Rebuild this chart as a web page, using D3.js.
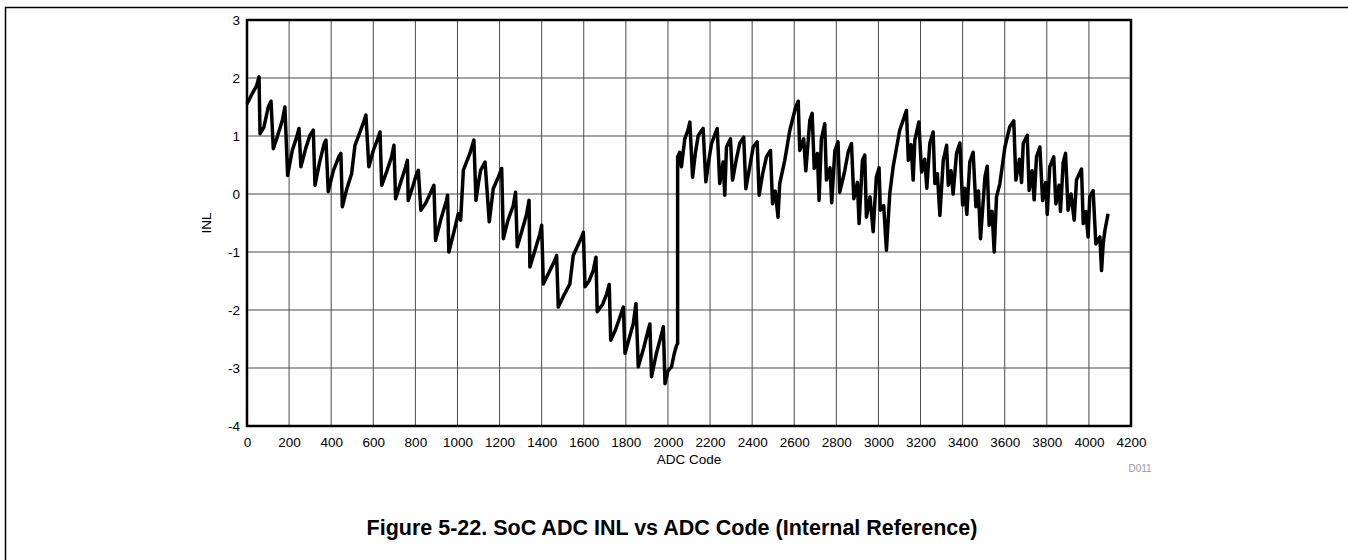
<!DOCTYPE html>
<html>
<head>
<meta charset="utf-8">
<script src="https://cdn.jsdelivr.net/npm/d3@7"></script>
<style>
  body { margin: 0; background: #fff; }
  svg text { font-family: Arial, "Liberation Sans", sans-serif; }
</style>
</head>
<body>
<svg width="1348" height="560"></svg>
<script>
// vertices of the INL trace (ADC code, INL in LSB)
var adcCode = [
  0, 20, 46, 57, 62, 80, 101, 114, 125, 145, 168, 180, 193, 215, 236, 247, 256,
  280, 299, 315, 323, 345, 367, 375, 386, 410, 437, 446, 453, 475, 497, 513, 535,
  557, 565, 579, 600, 624, 632, 640, 665, 687, 698, 706, 730, 754, 762, 766, 785,
  806, 814, 826, 850, 877, 888, 896, 920, 948, 953, 959, 980, 1004, 1015, 1028,
  1059, 1078, 1088, 1100, 1110, 1131, 1151, 1170, 1195, 1210, 1218, 1240, 1265,
  1276, 1284, 1305, 1329, 1340, 1344, 1370, 1392, 1400, 1408, 1435, 1463, 1471,
  1479, 1505, 1534, 1550, 1570, 1590, 1598, 1606, 1625, 1645, 1658, 1664, 1690,
  1709, 1721, 1728, 1750, 1772, 1788, 1796, 1815, 1835, 1848, 1859, 1885, 1906,
  1914, 1922, 1945, 1970, 1978, 1986, 2000, 2017, 2030, 2041, 2046,
  2046, 2056, 2064, 2080, 2095, 2104, 2117, 2130, 2144, 2167, 2180, 2195, 2207,
  2234, 2246, 2262, 2270, 2278, 2297, 2307, 2325, 2341, 2360, 2370, 2390, 2405,
  2424, 2433, 2450, 2468, 2487, 2497, 2510, 2523, 2531, 2555, 2579, 2607, 2619,
  2626, 2645, 2655, 2674, 2685, 2695, 2710, 2718, 2729, 2745, 2753, 2770, 2778,
  2793, 2808, 2816, 2840, 2856, 2872, 2883, 2900, 2908, 2924, 2935, 2943, 2960,
  2975, 2990, 3003, 3009, 3025, 3038, 3054, 3070, 3101, 3120, 3133, 3142, 3155,
  3165, 3173, 3192, 3205, 3220, 3230, 3244, 3260, 3268, 3280, 3292, 3308, 3324,
  3332, 3345, 3355, 3371, 3387, 3400, 3410, 3420, 3434, 3450, 3463, 3475, 3485,
  3506, 3517, 3526, 3540, 3550, 3561, 3577, 3601, 3624, 3643, 3653, 3670, 3680,
  3688, 3707, 3716, 3730, 3740, 3751, 3767, 3780, 3795, 3802, 3814, 3833, 3843,
  3858, 3865, 3878, 3889, 3901, 3915, 3930, 3941, 3965, 3973, 3985, 3996, 4004,
  4020, 4033, 4052, 4060, 4068, 4076, 4091
];
var inlValue = [
  1.55, 1.70, 1.87, 2.02, 1.04, 1.15, 1.50, 1.60, 0.78, 1.00, 1.27, 1.50, 0.32, 0.75, 0.98, 1.13, 0.47,
  0.80, 1.01, 1.10, 0.15, 0.55, 0.87, 0.93, 0.04, 0.40, 0.65, 0.70, -0.22, 0.10, 0.35, 0.84, 1.05,
  1.27, 1.36, 0.47, 0.75, 0.98, 1.07, 0.15, 0.40, 0.64, 0.84, -0.08, 0.20, 0.47, 0.58, -0.11, 0.10,
  0.35, 0.41, -0.28, -0.15, 0.06, 0.15, -0.80, -0.45, -0.11, -0.02, -1.00, -0.70, -0.34, -0.45, 0.41,
  0.70, 0.93, -0.11, 0.20, 0.41, 0.55, -0.48, 0.09, 0.30, 0.44, -0.77, -0.45, -0.20,
  0.03, -0.91, -0.65, -0.34, -0.11, -1.26, -0.95, -0.68, -0.54, -1.55, -1.35, -1.14, -1.06,
  -1.95, -1.75, -1.55, -1.06, -0.90, -0.74, -0.66, -1.60, -1.50, -1.32, -1.09, -2.03, -1.90,
  -1.72, -1.56, -2.52, -2.35, -2.12, -1.95, -2.75, -2.50, -2.24, -1.89, -2.98, -2.65, -2.35,
  -2.24, -3.15, -2.75, -2.41, -2.29, -3.27, -3.05, -2.98, -2.75, -2.61, -2.58,
  0.64, 0.72, 0.47, 0.95, 1.10, 1.24, 0.29, 0.70, 1.01, 1.13, 0.21, 0.60, 0.87,
  1.13, 0.18, 0.55, -0.02, 0.81, 0.95, 0.24, 0.60, 0.87, 0.98, 0.09, 0.50, 0.81,
  0.90, -0.02, 0.35, 0.64, 0.75, -0.17, 0.05, -0.40, 0.18, 0.58, 1.10, 1.50, 1.60,
  0.75, 0.95, 0.40, 1.27, 1.39, 0.44, 0.70, -0.11, 0.95, 1.21, 0.24, 0.45, -0.15,
  0.75, 0.90, 0.03, 0.40, 0.72, 0.87, -0.08, 0.20, -0.51, 0.58, 0.67, -0.40, -0.05,
  -0.65, 0.29, 0.45, -0.28, -0.20, -0.97, 0.01, 0.47, 1.10, 1.30, 1.44, 0.58, 0.85,
  0.24, 0.93, 1.24, 0.38, 0.60, 0.10, 0.87, 1.07, 0.18, 0.35, -0.37, 0.58, 0.84,
  0.15, 0.40, 0.00, 0.70, 0.88, -0.19, 0.10, -0.35, 0.55, 0.72, -0.22, 0.05, -0.77,
  0.29, 0.48, -0.54, -0.30, -1.00, -0.05, 0.18, 0.81, 1.16, 1.26, 0.24, 0.60, 0.20,
  0.87, 1.01, 0.06, 0.40, -0.10, 0.64, 0.81, -0.11, 0.20, -0.35, 0.47, 0.64, -0.17,
  0.15, -0.30, 0.55, 0.70, -0.28, 0.00, -0.45, 0.24, 0.43, -0.51, -0.30, -0.74, -0.05,
  0.06, -0.86, -0.74, -1.32, -0.85, -0.63, -0.34
];

var xTicks = d3.range(0, 4201, 200);
var yTicks = [-4, -3, -2, -1, 0, 1, 2, 3];

var data = adcCode.map(function(c, i) { return { x: c, y: inlValue[i] }; });

var svg = d3.select("svg");

// plot box in pixels
var pLeft = 247, pRight = 1131, pTop = 20, pBottom = 426;

var x = d3.scaleLinear().domain([0, 4200]).range([pLeft, pRight]);
var y = d3.scaleLinear().domain([-4, 3]).range([pBottom, pTop]);

// page frame
svg.append("path")
  .attr("d", "M5.5,560 L5.5,7.5 L1348,7.5")
  .attr("fill", "none")
  .attr("stroke", "#000")
  .attr("stroke-width", 1.5);

// grid
svg.append("g")
  .selectAll("line")
  .data(xTicks)
  .enter()
  .append("line")
  .attr("x1", d => x(d)).attr("x2", d => x(d))
  .attr("y1", pTop).attr("y2", pBottom)
  .attr("stroke", "#4a4a4a").attr("stroke-width", 1);

svg.append("g")
  .selectAll("line")
  .data(yTicks)
  .enter()
  .append("line")
  .attr("x1", pLeft).attr("x2", pRight)
  .attr("y1", d => y(d)).attr("y2", d => y(d))
  .attr("stroke", "#4a4a4a").attr("stroke-width", 1);

// axes (labels only, the frame is drawn below); plain hyphen for negatives
var xAxis = d3.axisBottom(x).tickValues(xTicks).tickSize(0).tickPadding(11).tickFormat(d => String(d));
var yAxis = d3.axisLeft(y).tickValues(yTicks).tickSize(0).tickPadding(7).tickFormat(d => String(d));

var gx = svg.append("g")
  .attr("transform", "translate(0," + pBottom + ")")
  .call(xAxis);
var gy = svg.append("g")
  .attr("transform", "translate(" + pLeft + ",0)")
  .call(yAxis);

[gx, gy].forEach(function(g) {
  g.select(".domain").remove();
  g.selectAll("text")
    .attr("font-family", "Arial, 'Liberation Sans', sans-serif")
    .attr("font-size", 13.5)
    .attr("fill", "#000");
});

// the trace
var line = d3.line()
  .x(d => x(d.x))
  .y(d => y(d.y));

svg.append("path")
  .datum(data)
  .attr("d", line)
  .attr("fill", "none")
  .attr("stroke", "#000")
  .attr("stroke-width", 3.5)
  .attr("stroke-linejoin", "round");

// plot frame
svg.append("rect")
  .attr("x", pLeft).attr("y", pTop)
  .attr("width", pRight - pLeft).attr("height", pBottom - pTop)
  .attr("fill", "none")
  .attr("stroke", "#000")
  .attr("stroke-width", 2.5);

// axis titles
svg.append("text")
  .attr("x", (pLeft + pRight) / 2)
  .attr("y", 464)
  .attr("text-anchor", "middle")
  .attr("font-size", 13.5)
  .text("ADC Code");

svg.append("text")
  .attr("transform", "translate(211," + ((pTop + pBottom) / 2) + ") rotate(-90)")
  .attr("text-anchor", "middle")
  .attr("font-size", 13.5)
  .text("INL");

svg.append("text")
  .attr("x", 1140)
  .attr("y", 472)
  .attr("text-anchor", "middle")
  .attr("font-size", 10)
  .attr("fill", "#999")
  .text("D011");

svg.append("text")
  .attr("x", 672)
  .attr("y", 535)
  .attr("text-anchor", "middle")
  .attr("font-size", 21.5)
  .attr("font-weight", "bold")
  .text("Figure 5-22. SoC ADC INL vs ADC Code (Internal Reference)");
</script>
</body>
</html>
